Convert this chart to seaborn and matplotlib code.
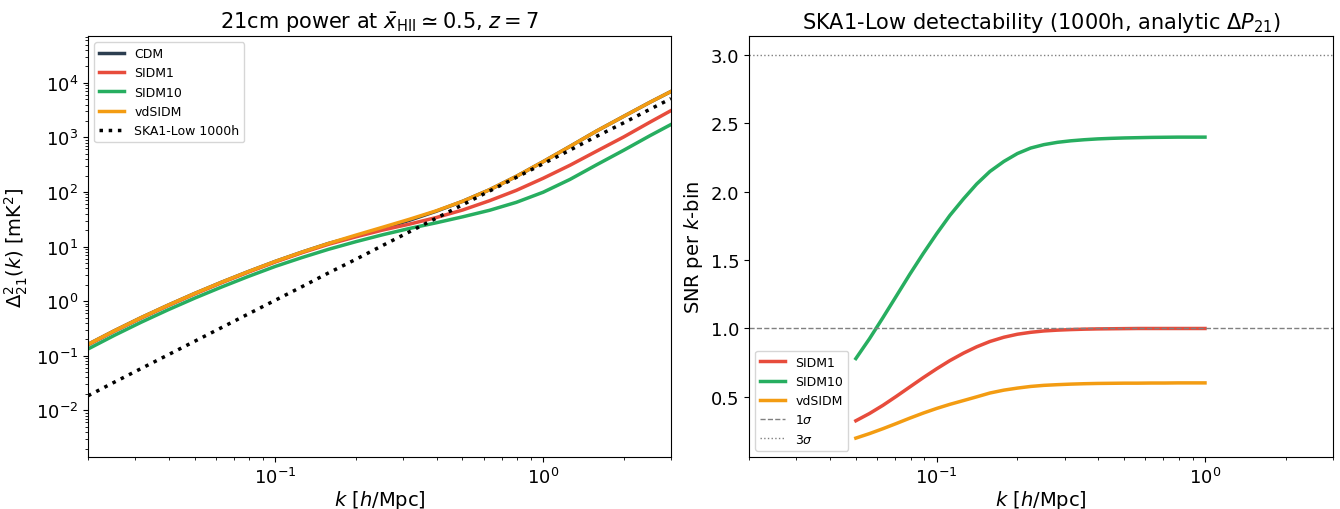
import numpy as np
import seaborn as sns
import matplotlib
matplotlib.use("Agg")
import matplotlib.pyplot as plt

# left panel: Delta^2_21(k) at x_HII ~ 0.5, z = 7
k_pow = [0.02, 0.0251, 0.0316, 0.0398, 0.0501, 0.0631, 0.0794, 0.1, 0.126, 0.158, 0.2, 0.251,
         0.316, 0.398, 0.501, 0.631, 0.794, 1.0, 1.26, 1.58, 2.0, 2.51, 3.0]
cdm = [0.162, 0.288, 0.501, 0.845, 1.39, 2.23, 3.49, 5.35, 7.94, 11.4, 15.5, 21.4,
       30.2, 44.2, 67.6, 110, 193, 359, 684, 1300, 2430, 4420, 6920]
sidm1 = [0.158, 0.282, 0.490, 0.826, 1.36, 2.18, 3.41, 5.22, 7.73, 11.0, 15.1, 20.0,
         25.7, 33.9, 46.8, 69.2, 107, 178, 309, 556, 1020, 1910, 3090]
sidm10 = [0.133, 0.237, 0.412, 0.695, 1.14, 1.82, 2.84, 4.33, 6.31, 8.91, 12.3, 16.4,
          21.4, 27.2, 35.1, 46.2, 64.6, 98.9, 170, 313, 582, 1080, 1720]
vdsidm = [0.162, 0.288, 0.501, 0.845, 1.39, 2.23, 3.49, 5.35, 7.94, 11.4, 16.2, 22.5,
          31.5, 45.0, 67.6, 110, 193, 359, 684, 1300, 2430, 4420, 6920]
ska_noise = [0.0185, 0.0329, 0.0585, 0.104, 0.185, 0.329, 0.585, 1.04, 1.85, 3.29, 5.85, 10.4,
             18.5, 32.9, 58.5, 104, 185, 329, 585, 1040, 1850, 3290, 5130]

# right panel: SNR per k-bin
k_snr = [0.05, 0.0562, 0.0631, 0.0708, 0.0794, 0.0891, 0.1, 0.112, 0.126, 0.141, 0.158, 0.178,
         0.2, 0.224, 0.251, 0.282, 0.316, 0.355, 0.398, 0.447, 0.501, 0.562, 0.631, 0.708,
         0.794, 0.891, 1.0]
snr_sidm1 = [0.325, 0.378, 0.438, 0.504, 0.572, 0.64, 0.705, 0.765, 0.82, 0.866, 0.905, 0.936,
             0.958, 0.972, 0.982, 0.988, 0.992, 0.995, 0.997, 0.998, 0.999, 1.0, 1.0, 1.0,
             1.0, 1.0, 1.0]
snr_sidm10 = [0.78, 0.925, 1.08, 1.238, 1.396, 1.548, 1.693, 1.827, 1.949, 2.057, 2.149, 2.222,
              2.28, 2.32, 2.345, 2.362, 2.373, 2.381, 2.387, 2.391, 2.394, 2.396, 2.398, 2.399,
              2.40, 2.40, 2.40]
snr_vdsidm = [0.198, 0.231, 0.267, 0.305, 0.344, 0.381, 0.415, 0.445, 0.473, 0.500, 0.528, 0.549,
              0.564, 0.576, 0.584, 0.589, 0.593, 0.596, 0.598, 0.599, 0.60, 0.60, 0.601, 0.601,
              0.602, 0.602, 0.602]

colors = {"CDM": "#2c3e50", "SIDM1": "#e74c3c", "SIDM10": "#27ae60", "vdSIDM": "#f39c12"}

fig = plt.figure(figsize=(13.4, 5.1), dpi=100)
ax1 = fig.add_axes([0.0657, 0.102, 0.435, 0.8255])
ax2 = fig.add_axes([0.559, 0.102, 0.4358, 0.8255])

for name, vals in [("CDM", cdm), ("SIDM1", sidm1), ("SIDM10", sidm10), ("vdSIDM", vdsidm)]:
    sns.lineplot(x=k_pow, y=vals, ax=ax1, color=colors[name], lw=2.5, label=name)
sns.lineplot(x=k_pow, y=ska_noise, ax=ax1, color="black", lw=2.5, linestyle=":", label="SKA1-Low 1000h")
ax1.set_xscale("log")
ax1.set_yscale("log")
ax1.set_xlim(0.02, 3)
ax1.set_ylim(1.4e-3, 7.2e4)
ax1.set_xlabel(r"$k$ [$h$/Mpc]", fontsize=14, labelpad=1)
ax1.set_ylabel(r"$\Delta^2_{21}(k)$ [mK$^2$]", fontsize=14)
ax1.set_title(r"21cm power at $\bar{x}_{\rm HII} \simeq 0.5$, $z=7$", fontsize=15)
ax1.tick_params(labelsize=13)
ax1.legend(loc="upper left", fontsize=9)

for name, vals in [("SIDM1", snr_sidm1), ("SIDM10", snr_sidm10), ("vdSIDM", snr_vdsidm)]:
    sns.lineplot(x=k_snr, y=vals, ax=ax2, color=colors[name], lw=2.5, label=name)
ax2.axhline(1.0, color="gray", ls="--", lw=1, label=r"1$\sigma$")
ax2.axhline(3.0, color="gray", ls=":", lw=1, label=r"3$\sigma$")
ax2.set_xscale("log")
ax2.set_xlim(0.02, 3)
ax2.set_ylim(0.06, 3.14)
ax2.set_xlabel(r"$k$ [$h$/Mpc]", fontsize=14, labelpad=1)
ax2.set_ylabel(r"SNR per $k$-bin", fontsize=14)
ax2.set_title(r"SKA1-Low detectability (1000h, analytic $\Delta P_{21}$)", fontsize=15)
ax2.tick_params(labelsize=13)
ax2.legend(loc="lower left", fontsize=9)

fig.savefig("out.png", dpi=100)
